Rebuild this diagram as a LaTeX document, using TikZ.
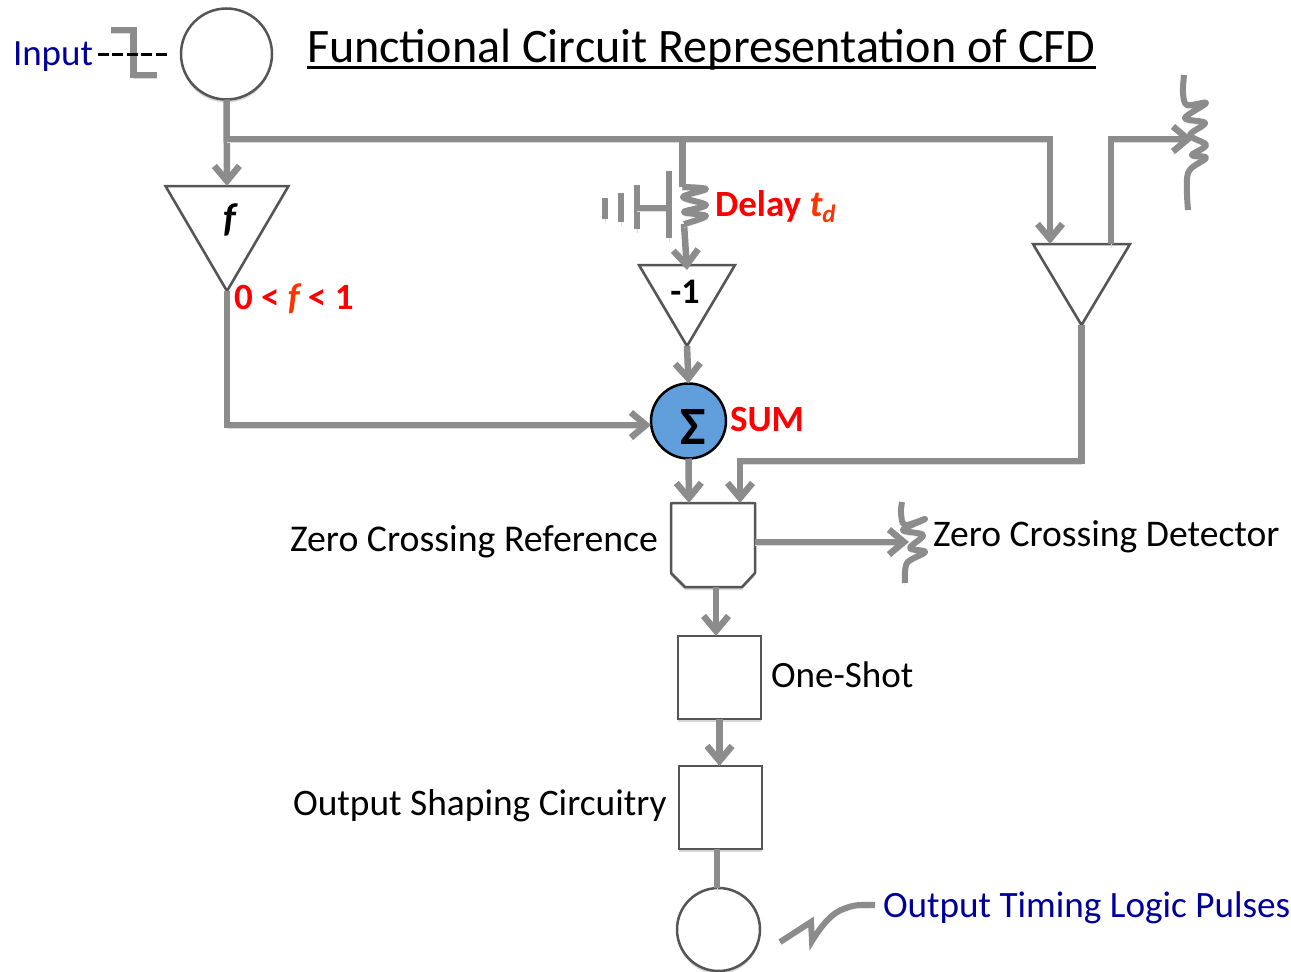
\documentclass[tikz,border=0pt]{standalone}
\usepackage{fontspec}
\setmainfont{Carlito}
\usetikzlibrary{arrows.meta,shapes.geometric,shadows,calc}
\definecolor{wirec}{HTML}{8C8C8C}
\definecolor{edgec}{HTML}{555555}
\definecolor{navyc}{HTML}{000099}
\definecolor{sumc}{HTML}{619FDC}
\definecolor{tred}{HTML}{FF3300}
\newcommand{\fsz}[1]{\fontsize{#1}{#1}\selectfont}
\tikzset{
  softshadow/.style={drop shadow={shadow xshift=0pt,shadow yshift=-3pt,fill=black!45,opacity=.35}},
  shapebase/.style={draw=edgec,line width=2.5pt,fill=white,inner sep=0pt,outer sep=0pt,softshadow},
  roundnode/.style={shapebase,circle,minimum size=#1},
  squarenode/.style={shapebase,rectangle,minimum size=83pt},
  ampnode/.style n args={2}{shapebase,isosceles triangle,isosceles triangle stretches=true,shape border rotate=270,anchor=apex,minimum width=#1,minimum height=#2},
  wireline/.style={draw=wirec,line width=6.5pt,line join=miter,preaction={draw=black!14,transform canvas={yshift=-3.5pt}}},
  barb/.style={wireline,-{Straight Barb[length=15pt,width=25pt,line width=6.5pt]}},
  thinwire/.style={draw=wirec,line width=5.5pt,line join=round,preaction={draw=black!14,transform canvas={yshift=-3.5pt}}},
  lab/.style={anchor=base west,inner sep=0pt,outer sep=0pt,font=\fsz{37.6}},
  bluelab/.style={lab,text=navyc},
  redlab/.style={lab,text=red,font=\fsz{37}\bfseries},
}
\begin{document}
\begin{tikzpicture}[x=1pt,y=-1pt]
\useasboundingbox (0,0) rectangle (1291,972);
% shapes
\node[roundnode=91pt] (inp) at (226.5,54) {};
\node[ampnode={123pt}{105pt}] (ampf) at (227,291) {};
\node[ampnode={96pt}{81pt}] (ampm) at (687,346) {};
\node[ampnode={97pt}{81pt}] (ampr) at (1081.5,325) {};
\node[circle,draw=black,line width=2.5pt,fill=sumc,minimum size=75pt,inner sep=0pt,outer sep=0pt] (sum) at (688.5,421) {};
\node[font=\fsz{54}\bfseries,inner sep=0pt] (sigma) at (693,427) {Σ};
\node[rectangle,minimum width=84pt,minimum height=84pt,inner sep=0pt,outer sep=0pt] (zc) at (713,545) {};
\draw[draw=edgec,line width=2.5pt,fill=white,softshadow,line join=round]
  (zc.north west) -- (zc.north east) -- ([yshift=14pt]zc.south east) -- ([xshift=-13pt]zc.south east)
  -- ([xshift=14pt]zc.south west) -- ([yshift=14pt]zc.south west) -- cycle;
\node[squarenode] (oneshot) at (719.5,677.5) {};
\node[squarenode] (shaping) at (720.5,807.5) {};
\node[roundnode=83pt] (outp) at (718.5,929.5) {};
% junctions and free ends
\coordinate (j1) at (227,139);
\coordinate (j2) at (682.5,139);
\coordinate (j3) at (1050,139);
\coordinate (coiltop) at (682.5,187);
\coordinate (coilbot) at (684,224);
\coordinate (coilR) at (1193,139);
\coordinate (coilZ) at (909,542);
\coordinate (rup) at (1111,139);
\coordinate (sumin) at (227,425);
\coordinate (rlow) at (1081.5,461);
\coordinate (zcin) at (740,461);
% connectors
\draw[barb] (inp.south) -- (ampf.lower side);
\draw[wireline] (j1) -- (j3) -- ++(0,3);
\draw[barb] (j3) -- ([xshift=-31.5pt]ampr.lower side);
\draw[wireline] (j2) -- (coiltop);
\draw[barb] (coilbot) -- ([yshift=-5pt]ampm.lower side);
\draw[barb] (ampf.apex) -- (sumin) -- (sum.west |- sumin);
\draw[barb] (ampm.apex) -- (sum.north);
\draw[barb] (sum.south) -- ([xshift=18pt]zc.north west);
\draw[barb] (ampr.apex) -- (rlow) -- (zcin) -- ([xshift=69pt]zc.north west);
\draw[barb] (zc.east |- coilZ) -- (coilZ);
\draw[barb] ([xshift=45pt]zc.south west) -- ([xshift=-3.5pt]oneshot.north);
\draw[barb] (oneshot.south) -- (shaping.north -| oneshot.south);
\draw[wireline] ([xshift=-3.5pt]shaping.south) -- ([xshift=-1.5pt]outp.north);
\draw[barb] ([xshift=29.5pt]ampr.lower side) -- (rup) -- (coilR);
% input step and dashes
\draw[wireline] (111,30) -- (133.5,30) -- (133.5,75) -- (157,75);
\node[bluelab,font=\fsz{37}] (inputlab) at (13,65) {Input};
\draw[black,line width=3pt,dash pattern=on 11pt off 3.4pt] (inputlab.east |- 0,54) ++(5,0) -- ([xshift=-14pt]inp.west);
% delay element
\draw[thinwire] (605,198) -- (605,219);
\draw[thinwire] (621,193) -- (621,222);
\draw[thinwire] (637,185) -- (637,229);
\draw[thinwire] (637,208) -- (669,208);
\draw[thinwire] (669,171) -- (669,238);
\draw[thinwire,line width=6pt] plot[smooth,tension=.55] coordinates {(coiltop) (706,189) (683,197) (706,205) (684,212) (706,216) (684,224)};
% right coil
\draw[thinwire,line width=6pt] plot[smooth,tension=.55] coordinates {(1184,75) (1183,93) (1187,105) (1206,103) (1185,118) (1205,123) (1190,135) (1206,145) (1192,155) (1206,158) (1188,173) (1188,210)};
% zero crossing coil
\draw[thinwire,line width=6pt] plot[smooth,tension=.55] coordinates {(902,502) (901,513) (905,525) (925,519) (903,530) (923,535) (910,548) (925,552) (907,563) (905,583)};
% output squiggle
\draw[thinwire,line width=6pt,line join=miter] (780,942) -- (811,922) -- (812,941) .. controls (822,925) and (832,912) .. (846,908) .. controls (856,904) and (864,905) .. (875,905);
% texts
\node[lab,font=\fsz{48.1}] (title) at (307,62.5) {Functional Circuit Representation of CFD};
\draw[black,line width=3pt] ([yshift=-5pt]title.base west) -- ([yshift=-5pt]title.base east);
\node[lab,anchor=base,font=\fsz{40}\bfseries\itshape] (flab) at (229.5,231) {f};
\node[lab,anchor=base,font=\fsz{36}\bfseries] (mlab) at (685,303) {-1};
\node[redlab] (delaylab) at (715,216) {Delay {\color{tred}\itshape t\raisebox{-6pt}{\fsz{25}d}}};
\node[redlab] (rangelab) at (234,309) {0 < {\color{tred}\itshape f} < 1};
\node[redlab] (sumlab) at (730,431) {SUM};
\node[lab,font=\fsz{37.8}] (zcr) at (290,551) {Zero Crossing Reference};
\node[lab] (zcd) at (933,546) {Zero Crossing Detector};
\node[lab,font=\fsz{37.1}] (oslab) at (771,687) {One-Shot};
\node[lab,font=\fsz{37.4}] (oscl) at (293,815) {Output Shaping Circuitry};
\node[bluelab,font=\fsz{37.2}] (otlp) at (883,917) {Output Timing Logic Pulses};
\end{tikzpicture}
\end{document}
